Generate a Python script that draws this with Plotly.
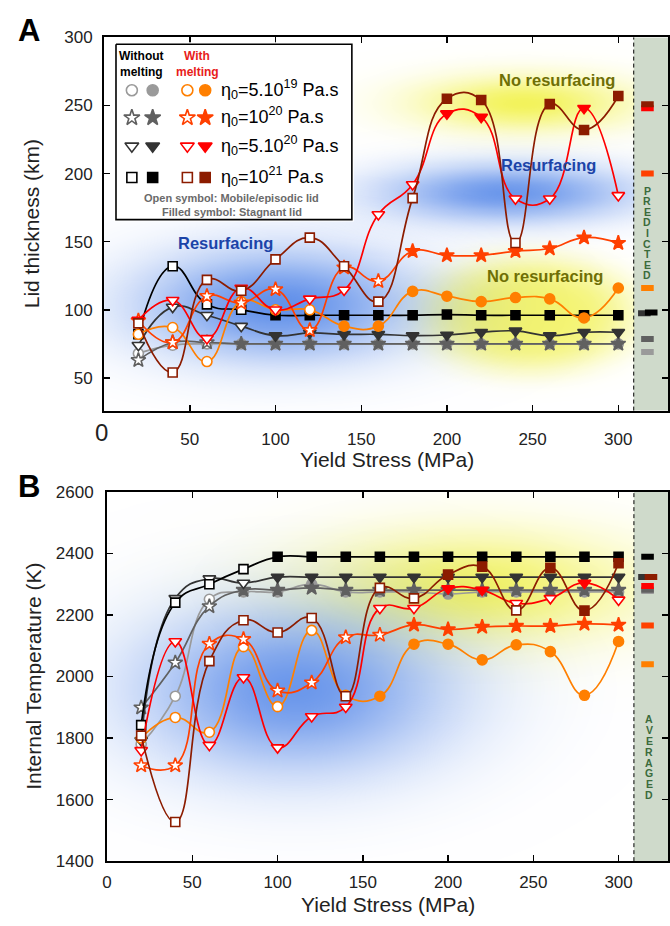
import numpy as np
import plotly.graph_objects as go

W, H = 670, 926

# ---------------- data ----------------
stress = [20, 40, 60, 80, 100, 120, 140, 160, 180, 200, 220, 240, 260, 280, 300]

# Panel A : lid thickness (km)
lid_circle_nomelt = [68, 74, 75, 75, 75, 75, 75, 75, 75, 75, 75, 75, 75, 75, 75]
lid_star_nomelt   = [63, 76, 76, 75, 75, 75, 75, 75, 75, 75, 75, 75, 75, 75, 75]
lid_tri_nomelt    = [74, 102, 96, 88, 81, 83, 82, 82, 81, 81.5, 83.5, 84.5, 81, 83.5, 83.5]
lid_square_nomelt = [82, 132, 104, 100, 96, 96, 96, 96, 96, 96.5, 96, 96, 96, 96, 96]
lid_circle_melt   = [82, 87, 62, 106, 100, 100, 88, 88, 113.5, 110, 106, 109, 108, 94, 116]
lid_star_melt     = [92, 76, 110, 105, 115, 85, 131, 121, 143, 140, 140, 143, 145, 153, 149]
lid_tri_melt      = [92.5, 107, 79, 116, 100, 108, 114.5, 170, 192, 244, 241.5, 181.5, 181.5, 248, 184]
lid_square_melt   = [90, 54, 122, 114, 137, 153, 132, 106, 182, 255, 254, 149, 251, 232, 257]

# Panel B : internal temperature (K)
T_circle_nomelt = [1780, 1936, 2251, 2275, 2275, 2300, 2275, 2275, 2275, 2268, 2275, 2275, 2275, 2275, 2275]
T_star_nomelt   = [1899, 2045, 2228, 2281, 2281, 2288, 2281, 2281, 2281, 2281, 2281, 2281, 2281, 2281, 2281]
T_tri_nomelt    = [1792, 2254, 2318, 2304, 2323, 2323, 2323, 2323, 2323, 2323, 2323, 2323, 2323, 2323, 2323]
T_square_nomelt = [1842, 2240, 2300, 2349, 2389, 2389, 2389, 2389, 2389, 2389, 2389, 2389, 2389, 2389, 2389]
T_circle_melt   = [1800, 1867, 1819, 2097, 1902, 2150, 1939, 1936, 2105, 2105, 2054, 2103, 2081, 1939, 2114]
T_star_melt     = [1711, 1711, 2106, 2121, 1954, 1980, 2127, 2135, 2168, 2153, 2161, 2164, 2164, 2171, 2168]
T_tri_melt      = [1760, 2114, 1777, 1997, 1769, 1870, 1901, 2222, 2222, 2286, 2281, 2238, 2254, 2304, 2249]
T_square_melt   = [1808, 1527, 2050, 2183, 2143, 2190, 1936, 2288, 2254, 2331, 2357, 2215, 2353, 2214, 2368]

# 1 = filled symbol (stagnant lid), 0 = open symbol (mobile/episodic lid)
lid_mode_circle_nomelt = [0, 0, 0, 1, 1, 1, 1, 1, 1, 1, 1, 1, 1, 1, 1]
lid_mode_star_nomelt   = [0, 0, 0, 1, 1, 1, 1, 1, 1, 1, 1, 1, 1, 1, 1]
lid_mode_tri_nomelt    = [0, 0, 0, 0, 1, 1, 1, 1, 1, 1, 1, 1, 1, 1, 1]
lid_mode_square_nomelt = [0, 0, 0, 0, 1, 1, 1, 1, 1, 1, 1, 1, 1, 1, 1]
lid_mode_circle_melt   = [0, 0, 0, 0, 0, 0, 1, 1, 1, 1, 1, 1, 1, 1, 1]
lid_mode_star_melt     = [0, 0, 0, 0, 0, 0, 0, 0, 1, 1, 1, 1, 1, 1, 1]
lid_mode_tri_melt      = [0, 0, 0, 0, 0, 0, 0, 0, 0, 1, 1, 0, 0, 1, 0]
lid_mode_square_melt   = [0, 0, 0, 0, 0, 0, 0, 0, 0, 1, 1, 0, 1, 1, 1]

# predicted lid thickness / averaged temperature (side strip)
pred_names = ["circle_nomelt", "star_nomelt", "tri_nomelt", "square_nomelt",
              "circle_melt", "star_melt", "tri_melt", "square_melt"]
pred_lid = [69, 78.5, 97.5, 98, 116, 200, 248, 251]
avg_T    = [2278, 2282, 2323, 2389, 2040, 2166, 2294, 2323]

legend_labels = ["η<sub>0</sub>=5.10<sup>19</sup> Pa.s", "η<sub>0</sub>=10<sup>20</sup> Pa.s",
                 "η<sub>0</sub>=5.10<sup>20</sup> Pa.s", "η<sub>0</sub>=10<sup>21</sup> Pa.s"]
xticks_A = [50, 100, 150, 200, 250, 300]
yticks_A = [50, 100, 150, 200, 250, 300]
xticks_B = [0, 50, 100, 150, 200, 250, 300]
yticks_B = [1400, 1600, 1800, 2000, 2200, 2400, 2600]

# ---------------- styles ----------------
C = {
    "circle_nomelt": "#9a9a9a", "star_nomelt": "#606060", "tri_nomelt": "#333333", "square_nomelt": "#000000",
    "circle_melt": "#ff7f00", "star_melt": "#ff4000", "tri_melt": "#ff0000", "square_melt": "#8c1c00",
}
SYM = {"circle": "circle", "star": "star", "tri": "triangle-down", "square": "square"}
SIZE = {"circle": 10, "star": 11, "tri": 11, "square": 9}
SANS = "Liberation Sans, Arial, Helvetica, sans-serif"

def px(x):
    return x / W

def py(y):
    return 1 - y / H

fig = go.Figure()

# ---------------- background regime shading ----------------
def blob(X, Y, cx, cy, sx, sy, p=1.0):
    r2 = ((X - cx) / sx) ** 2 + ((Y - cy) / sy) ** 2
    return np.exp(-r2 ** p)

def add_glow(xg, yg, z, rgb, amax, xa, ya):
    cs = [[0, f"rgba({rgb},0)"], [1, f"rgba({rgb},1)"]]
    fig.add_trace(go.Heatmap(x=xg, y=yg, z=z * amax, zmin=0, zmax=1, colorscale=cs,
                             showscale=False, zsmooth="best", hoverinfo="skip",
                             xaxis=xa, yaxis=ya))

BLUE = "70,125,230"
YEL = "240,240,50"
xa_g = np.linspace(0, 308, 120)
ya_g = np.linspace(26, 300, 120)
XA, YA = np.meshgrid(xa_g, ya_g)
add_glow(xa_g, ya_g, blob(XA, YA, 245, 252, 62, 20), YEL, 0.8, "x", "y")
add_glow(xa_g, ya_g, blob(XA, YA, 248, 97, 62, 42, 2.0), YEL, 0.7, "x", "y")
add_glow(xa_g, ya_g, blob(XA, YA, 235, 186, 72, 21), BLUE, 0.8, "x", "y")
add_glow(xa_g, ya_g, blob(XA, YA, 102, 104, 80, 40), BLUE, 0.85, "x", "y")

xb_g = np.linspace(0, 308, 120)
yb_g = np.linspace(1400, 2600, 120)
XB, YB = np.meshgrid(xb_g, yb_g)
add_glow(xb_g, yb_g, blob(XB, YB, 215, 2290, 95, 180), YEL, 0.75, "x2", "y2")
add_glow(xb_g, yb_g, blob(XB, YB, 110, 1960, 90, 270), BLUE, 0.8, "x2", "y2")

# ---------------- data series ----------------
series_A = [
    ("circle_nomelt", lid_circle_nomelt, lid_mode_circle_nomelt),
    ("star_nomelt", lid_star_nomelt, lid_mode_star_nomelt),
    ("tri_nomelt", lid_tri_nomelt, lid_mode_tri_nomelt),
    ("square_nomelt", lid_square_nomelt, lid_mode_square_nomelt),
    ("circle_melt", lid_circle_melt, lid_mode_circle_melt),
    ("star_melt", lid_star_melt, lid_mode_star_melt),
    ("tri_melt", lid_tri_melt, lid_mode_tri_melt),
    ("square_melt", lid_square_melt, lid_mode_square_melt),
]
series_B = [
    ("circle_nomelt", T_circle_nomelt), ("star_nomelt", T_star_nomelt),
    ("tri_nomelt", T_tri_nomelt), ("square_nomelt", T_square_nomelt),
    ("circle_melt", T_circle_melt), ("star_melt", T_star_melt),
    ("tri_melt", T_tri_melt), ("square_melt", T_square_melt),
]

def add_series(name, yvals, mode, xa, ya):
    col = C[name]
    shape = name.split("_")[0]
    fills = [col if m else "white" for m in mode]
    fig.add_trace(go.Scatter(
        x=stress, y=yvals, mode="lines+markers",
        line=dict(color=col, width=1.7, shape="spline", smoothing=1.3),
        marker=dict(symbol=SYM[shape], size=SIZE[shape], color=fills,
                    line=dict(color=col, width=1.6)),
        xaxis=xa, yaxis=ya, showlegend=False, hoverinfo="skip", cliponaxis=False))

for (name, yv, mode) in series_A:
    add_series(name, yv, mode, "x", "y")
modes = {n: m for (n, _, m) in series_A}
for (name, yv) in series_B:
    add_series(name, yv, modes[name], "x2", "y2")

# side strip markers (predicted / averaged), one trace per panel
strip_x = {"tri_nomelt": 315.2, "circle_nomelt": 317, "star_nomelt": 317, "square_nomelt": 319.2,
           "circle_melt": 317, "star_melt": 317, "tri_melt": 317, "square_melt": 317}
strip_xB = {"tri_nomelt": 315.2, "circle_nomelt": 317, "star_nomelt": 317, "square_nomelt": 317,
            "circle_melt": 317, "star_melt": 317, "tri_melt": 317, "square_melt": 319}
order_A = ["circle_nomelt", "star_nomelt", "tri_nomelt", "square_nomelt", "circle_melt",
           "star_melt", "tri_melt", "square_melt"]
order_B = ["circle_nomelt", "star_nomelt", "tri_nomelt", "square_melt", "tri_melt", "square_nomelt",
           "circle_melt", "star_melt"]
for order, sx, vals, xa, ya in [(order_A, strip_x, pred_lid, "x", "y"),
                                (order_B, strip_xB, avg_T, "x2", "y2")]:
    fig.add_trace(go.Scatter(
        x=[sx[n] for n in order], y=[vals[pred_names.index(n)] for n in order], mode="markers",
        marker=dict(symbol="line-ew", size=9, line=dict(color=[C[n] for n in order], width=6)),
        xaxis=xa, yaxis=ya, showlegend=False, hoverinfo="skip"))

# ---------------- legend box (overlay axes x3/y3, 1 unit = 1 px) ----------------
fig.add_trace(go.Scatter(x=[0, 238, 238, 0, 0], y=[0, 0, 179, 179, 0], mode="lines",
                         fill="toself", fillcolor="white", line=dict(color="black", width=1.6),
                         xaxis="x3", yaxis="y3", showlegend=False, hoverinfo="skip"))
rows_y = [47, 75, 104, 136]
cols_x = [16, 37, 72, 90]
shapes_order = ["circle", "star", "tri", "square"]
for r, shp in enumerate(shapes_order):
    cn, cm = C[f"{shp}_nomelt"], C[f"{shp}_melt"]
    fig.add_trace(go.Scatter(
        x=cols_x, y=[rows_y[r]] * 4, mode="markers",
        marker=dict(symbol=SYM[shp], size=SIZE[shp] + 1, color=["white", cn, "white", cm],
                    line=dict(color=[cn, cn, cm, cm], width=1.6)),
        xaxis="x3", yaxis="y3", showlegend=False, hoverinfo="skip"))

ann = []

def A(x, y, text, size, color="#222", xref="paper", yref="paper", xanchor="center",
      yanchor="middle", bold=False, angle=0):
    ann.append(dict(x=x, y=y, xref=xref, yref=yref, text=f"<b>{text}</b>" if bold else text,
                    showarrow=False, xanchor=xanchor, yanchor=yanchor, textangle=angle,
                    font=dict(family=SANS, size=size, color=color)))

A(26, 12, "Without", 12, "black", "x3", "y3", bold=True)
A(26, 28, "melting", 12, "black", "x3", "y3", bold=True)
A(82, 12, "With", 12, "#e8201a", "x3", "y3", bold=True)
A(82, 28, "melting", 12, "#e8201a", "x3", "y3", bold=True)
for r, lab in enumerate(legend_labels):
    A(104, rows_y[r] - 1, lab, 18, "black", "x3", "y3", xanchor="left")
A(117, 157, "Open symbol: Mobile/episodic lid", 11, "#6a6a6a", "x3", "y3", bold=True)
A(117, 171.5, "Filled symbol: Stagnant lid", 11, "#6a6a6a", "x3", "y3", bold=True)

# regime labels
RES_BLUE = "#1c44a8"
OLIVE = "#6f6f05"
for (xx, yy, t, c) in [(71, 149, "Resurfacing", RES_BLUE), (259, 206, "Resurfacing", RES_BLUE),
                       (264, 269, "No resurfacing", OLIVE), (257, 125, "No resurfacing", OLIVE)]:
    A(xx, yy, t, 16.5, c, "x", "y", bold=True)

# vertical strip words
for i, ch in enumerate("PREDICTED"):
    A(px(648), py(185.7 + i * 10.75), ch, 10.5, "#3b6b3b", bold=True)
for i, ch in enumerate("AVERAGED"):
    A(px(650), py(725 + i * 11.1), ch, 10.5, "#3b6b3b", bold=True)

# panel letters, titles
A(px(24), py(22), "A", 31, "black", bold=True)
A(px(24), py(488), "B", 31, "black", bold=True)
A(px(97.6), py(432), "0", 24)
A(px(385), py(460), "Yield Stress (MPa)", 21)
A(px(386), py(914), "Yield Stress (MPa)", 21)
A(px(27), py(219), "Lid thickness (km)", 21, angle=-90)
A(px(28), py(681), "Internal Temperature (K)", 21, angle=-90)

# ---------------- shapes ----------------
shapes = []
for xr, yr in [("x", "y domain"), ("x2", "y2 domain")]:
    shapes.append(dict(type="rect", xref=xr, yref=yr, x0=309, x1=340, y0=0, y1=1,
                       fillcolor="#cfdacb", line=dict(width=0), layer="below"))
    shapes.append(dict(type="line", xref=xr, yref=yr, x0=309, x1=309, y0=0, y1=1,
                       line=dict(color="black", width=1, dash="4px,3px")))

axis_common = dict(showgrid=False, zeroline=False, showline=True, linecolor="black", linewidth=2,
                   mirror="ticks", ticks="inside", ticklen=6, tickwidth=1.4, tickcolor="black",
                   tickfont=dict(family=SANS, size=17, color="#222"))
hidden = dict(visible=False, fixedrange=True, showticklabels=False, ticks="", showline=False,
              showgrid=False, zeroline=False)

fig.update_layout(
    width=W, height=H, margin=dict(l=0, r=0, t=0, b=0),
    paper_bgcolor="white", plot_bgcolor="white", showlegend=False,
    xaxis=dict(domain=[px(100), px(669)], range=[0, 329], anchor="y", tickvals=xticks_A,
               ticklabelstandoff=12, **axis_common),
    yaxis=dict(domain=[py(410), py(29)], range=[26, 300], anchor="x", tickvals=yticks_A,
               ticklabelstandoff=6, **axis_common),
    xaxis2=dict(domain=[px(103), px(669)], range=[0, 329], anchor="y2", tickvals=xticks_B,
                ticklabelstandoff=4, **axis_common),
    yaxis2=dict(domain=[py(870), py(493)], range=[1400, 2600], anchor="x2", tickvals=yticks_B,
                ticklabelstandoff=8, **axis_common),
    xaxis3=dict(domain=[px(110), px(352)], range=[-2, 240], anchor="y3", **hidden),
    yaxis3=dict(domain=[py(217), py(34)], range=[181, -2], anchor="x3", **hidden),
    annotations=ann, shapes=shapes,
)

fig.write_html("out.html", config={"displayModeBar": False, "staticPlot": True},
               post_script="document.body.style.margin='0';document.body.style.overflow='hidden';")
